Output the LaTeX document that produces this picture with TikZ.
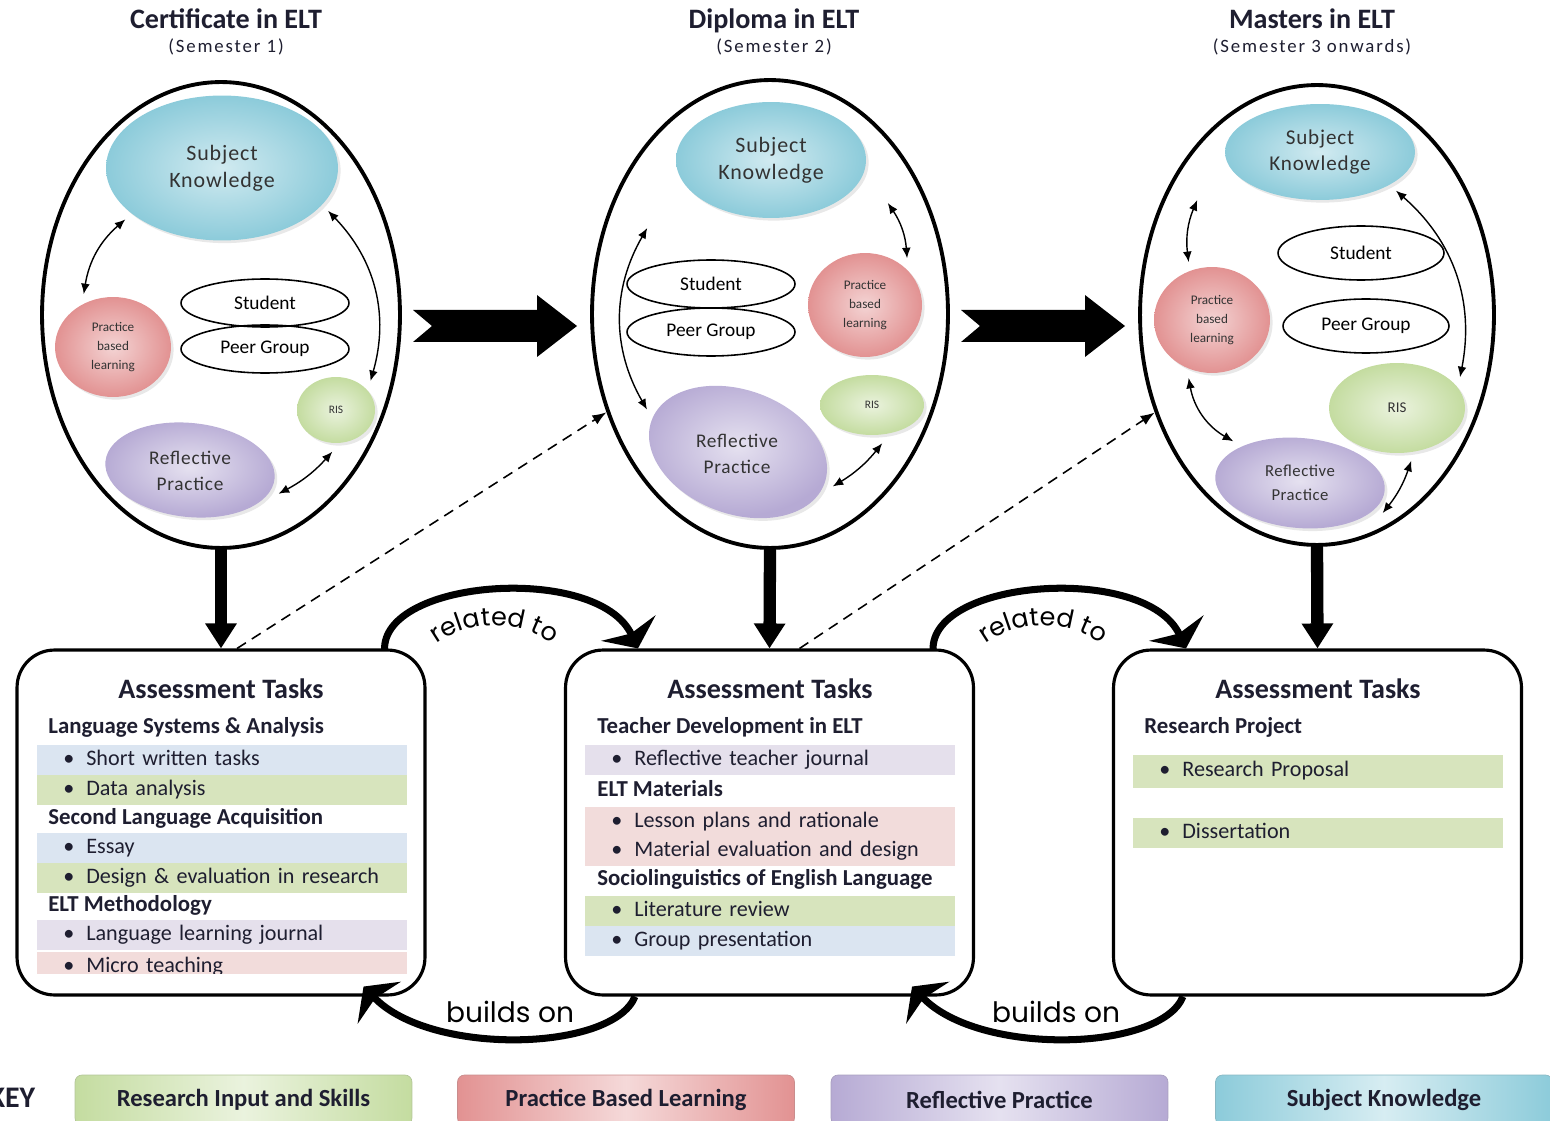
\documentclass[tikz,border=0pt]{standalone}
\usepackage{fontspec}
\setmainfont{Carlito}
\newfontfamily\roundfamily{Poppins}
\usetikzlibrary{arrows.meta,shapes.geometric,calc,decorations.text,shadows}

\definecolor{skblue}{RGB}{140,203,218}
\definecolor{pblred}{RGB}{226,146,146}
\definecolor{risgreen}{RGB}{196,220,160}
\definecolor{rppurple}{RGB}{182,170,212}
\definecolor{bandblue}{RGB}{219,229,241}
\definecolor{bandgreen}{RGB}{215,228,189}
\definecolor{bandpurple}{RGB}{229,224,236}
\definecolor{bandpink}{RGB}{242,220,219}
\definecolor{ink}{RGB}{30,30,48}

\tikzset{
  stage/.style={draw, ellipse, line width=2.2pt, inner sep=0pt},
  stagetitle/.style={anchor=base, font=\bfseries\fontsize{16}{18}\selectfont, text=ink, inner sep=0pt},
  semester/.style={anchor=base, font=\fontsize{10.7}{12}\selectfont\addfontfeature{LetterSpace=10}, text=ink, inner sep=0pt},
  blob/.style={ellipse, inner sep=0pt, outer sep=5pt, align=center, text=black!80,
    drop shadow={opacity=0.18, shadow xshift=1.5pt, shadow yshift=-1.5pt}},
  skblob/.style={blob, inner color=skblue!40, outer color=skblue, font=\fontsize{12.5}{15.5}\selectfont\addfontfeature{LetterSpace=4}},
  pblblob/.style={blob, inner color=pblred!40, outer color=pblred, font=\fontsize{7.5}{11}\selectfont},
  risblob/.style={blob, inner color=risgreen!35, outer color=risgreen, font=\fontsize{6.5}{8}\selectfont},
  rpblob/.style={blob, inner color=rppurple!35, outer color=rppurple},
  rptext/.style={align=center, inner sep=0pt, text=black!80, font=\fontsize{11}{14.5}\selectfont\addfontfeature{LetterSpace=4}},
  ring/.style={draw, ellipse, line width=0.9pt, inner sep=0pt, outer sep=4pt, font=\fontsize{11}{13}\selectfont},
  link/.style={<->, line width=0.8pt},
  stagearrow/.style={line width=7pt, -{Triangle[length=0.5cm,width=0.6cm]}},
  hint/.style={dash pattern=on 6pt off 4pt, line width=0.9pt, -{Latex[length=8pt,width=6pt]}},
  taskbox/.style={draw, rounded corners=0.75cm, line width=1.8pt, fill=white, minimum width=8.16cm, minimum height=6.9cm},
  taskhead/.style={font=\bfseries\fontsize{16}{18}\selectfont, text=ink, inner sep=0pt},
  subhead/.style={anchor=west, font=\bfseries\fontsize{13}{15}\selectfont, text=ink, inner sep=0pt},
  band/.style={anchor=west, minimum width=7.4cm, minimum height=0.59cm, inner sep=0pt,
    text width=7.4cm, align=left, text height=9pt, text depth=2.6pt, font=\fontsize{12.6}{14}\selectfont, text=ink},
  relarc/.style={line width=4pt, -{Stealth[length=0.45cm,width=1.2cm,inset=0.12cm]}},
  arcword/.style={font=\roundfamily\fontsize{16}{18}\selectfont},
  keybox/.style={rounded corners=4pt, draw=#1!75!gray, left color=#1, right color=#1, middle color=#1!35,
    minimum width=6.74cm, minimum height=1cm, font=\bfseries\fontsize{14}{16}\selectfont, text=ink},
}

\newcommand{\bul}{\hspace*{0.52cm}\makebox[0.46cm][l]{\textbullet}}

\begin{document}
\begin{tikzpicture}[x=0.02cm, y=0.02cm, >={Latex[length=6pt,width=5pt]}]
    \useasboundingbox (0,0) rectangle (1550,-1121);

    % stage titles
    \node[stagetitle] (certtitle) at (226,-29) {Certificate in ELT};
    \node[semester] (certsem) at (226,-53) {(Semester 1)};
    \node[stagetitle] (diptitle) at (774,-29) {Diploma in ELT};
    \node[semester] (dipsem) at (774,-53) {(Semester 2)};
    \node[stagetitle] (mastitle) at (1312,-29) {Masters in ELT};
    \node[semester] (massem) at (1312,-53) {(Semester 3 onwards)};

    % stage ellipses
    \node[stage, minimum width=7.16cm, minimum height=9.32cm] (cert) at (221,-315) {};
    \node[stage, minimum width=7.12cm, minimum height=9.36cm] (dip) at (770,-314) {};
    \node[stage, minimum width=7.08cm, minimum height=9.2cm] (mas) at (1317,-315) {};

    % certificate
    \node[skblob, minimum width=4.64cm, minimum height=2.9cm] (csk) at (222,-168) {Subject\\Knowledge};
    \node[pblblob, minimum width=2.32cm, minimum height=2.0cm] (cpbl) at (113,-347) {Practice\\based\\learning};
    \node[ring, minimum width=3.36cm, minimum height=0.96cm] (cst) at (265,-303) {Student};
    \node[ring, minimum width=3.36cm, minimum height=0.96cm] (cpg) at (265,-349) {Peer Group};
    \node[risblob, minimum width=1.56cm, minimum height=1.32cm] (cris) at (336,-410) {RIS};
    \node[rpblob, minimum width=3.4cm, minimum height=1.88cm, rotate=-6] (crp) at (190,-470) {};
    \node[rptext] (crptext) at (190,-471) {Reflective\\Practice};
    \draw[link] (csk.208) to[bend right=20] (cpbl.119);
    \draw[link] (csk.338) to[bend left=30] (cris.40);
    \draw[link] (crp.351) to[bend right=10] (cris.265);

    % diploma
    \node[skblob, minimum width=3.8cm, minimum height=2.32cm] (dsk) at (771,-160) {Subject\\Knowledge};
    \node[ring, minimum width=3.36cm, minimum height=0.96cm] (dst) at (711,-284) {Student};
    \node[ring, minimum width=3.36cm, minimum height=0.96cm] (dpg) at (711,-332) {Peer Group};
    \node[pblblob, minimum width=2.28cm, minimum height=2.08cm] (dpbl) at (865,-305) {Practice\\based\\learning};
    \node[risblob, minimum width=2.08cm, minimum height=1.2cm] (dris) at (872,-405) {RIS};
    \node[rpblob, minimum width=3.68cm, minimum height=2.48cm, rotate=-20] (drp) at (738,-452) {};
    \node[rptext] (drptext) at (737,-454) {Reflective\\Practice};
    \draw[link] ($(dsk.west)+(-20,-68)$) to[bend right=30] (drp.175);
    \draw[link] ($(dsk.east)+(13,-43)$) to[bend left=15] (dpbl.48);
    \draw[link] (drp.east) to[bend right=10] (dris.285);

    % masters
    \node[skblob, minimum width=3.8cm, minimum height=1.92cm, font=\fontsize{12}{14.5}\selectfont\addfontfeature{LetterSpace=4}] (msk) at (1320,-152) {Subject\\Knowledge};
    \node[ring, minimum width=3.32cm, minimum height=1.08cm] (mst) at (1361,-253) {Student};
    \node[ring, minimum width=3.32cm, minimum height=1.08cm] (mpg) at (1366,-326) {Peer Group};
    \node[pblblob, minimum width=2.32cm, minimum height=2.12cm] (mpbl) at (1212,-320) {Practice\\based\\learning};
    \node[risblob, minimum width=2.72cm, minimum height=1.8cm, font=\fontsize{8.5}{10}\selectfont] (mris) at (1397,-408) {RIS};
    \node[rpblob, minimum width=3.4cm, minimum height=1.8cm, rotate=-5] (mrp) at (1300,-483) {};
    \node[rptext, font=\fontsize{9.5}{13.5}\selectfont\addfontfeature{LetterSpace=3}] (mrptext) at (1300,-483) {Reflective\\Practice};
    \draw[link] ($(msk.west)+(-19,-48)$) to[bend right=15] (mpbl.112);
    \draw[link] (msk.333) to[bend left=30] (mris.26);
    \draw[link] (mpbl.248) to[bend right=25] (mrp.153);
    \draw[link] (mrp.345) to[bend right=10] (mris.285);

    % arrows between stages
    \foreach \dx in {0,548}
        \fill[shift={(\dx,0)}] (413,-310) -- (537,-310) -- (537,-295) -- (577,-326) -- (537,-357)
            -- (537,-342) -- (413,-342) -- (432,-326) -- cycle;

    % assessment boxes
    \node[taskbox] (lbox) at (221,-822.5) {};
    \node[taskbox] (dbox) at (769.5,-822.5) {};
    \node[taskbox] (rbox) at (1317.5,-822.5) {};

    \draw[stagearrow] (cert.south) -- (lbox.north);
    \draw[stagearrow] (dip.south) -- (dbox.north);
    \draw[stagearrow] (mas.south) -- (rbox.north);

    \draw[hint] ($(lbox.north)+(16,0)$) -- (dip.211);
    \draw[hint] ($(dbox.north)+(30,0)$) -- (mas.211);

    % related to / builds on
    \foreach \a/\b in {lbox/dbox, dbox/rbox} {
        \coordinate (rs) at ($(\a.north east)+(-42,-2)$);
        \coordinate (re) at ($(\b.north west)+(74,0)$);
        \coordinate (rc) at ($(\a.north east)+(68,-77)$);
        \draw[relarc] (rs) .. controls +(-3,72) and +(-40,85) .. (re);
        \path[decorate, decoration={text along path, text={|\roundfamily\fontsize{14.5}{16}\selectfont|related to},
            text align=center}] ($(rc)+(140:100)$) arc[start angle=140, end angle=40, radius=100];
        \coordinate (bs) at ($(\b.south west)+(71,0)$);
        \coordinate (be) at ($(\a.south east)+(-63,10)$);
        \draw[relarc] (bs) .. controls +(-22,-55) and +(68,-70) .. (be);
    }
    \node[arcword] (build1) at (510,-1012) {builds on};
    \node[arcword] (build2) at (1056,-1012) {builds on};

    % certificate tasks
    \node[taskhead] (lhead) at (221,-689) {Assessment Tasks};
    \node[subhead] (lsub1) at (48,-727) {Language Systems \& Analysis};
    \node[band, fill=bandblue] (lt1) at (37,-760) {\bul Short written tasks};
    \node[band, fill=bandgreen] (lt2) at (37,-790) {\bul Data analysis};
    \node[subhead] (lsub2) at (48,-818) {Second Language Acquisition};
    \node[band, fill=bandblue] (lt3) at (37,-848) {\bul Essay};
    \node[band, fill=bandgreen] (lt4) at (37,-878) {\bul Design \& evaluation in research};
    \node[subhead] (lsub3) at (48,-905) {ELT Methodology};
    \node[band, fill=bandpurple] (lt5) at (37,-935) {\bul Language learning journal};
    \begin{scope}
        \clip (37,-949) rectangle (407,-973);
        \node[band, fill=bandpink] (lt6) at (37,-967) {\bul Micro teaching};
    \end{scope}

    % diploma tasks
    \node[taskhead] (dhead) at (770,-689) {Assessment Tasks};
    \node[subhead] (dsub1) at (597,-727) {Teacher Development in ELT};
    \node[band, fill=bandpurple] (dt1) at (585,-760) {\bul Reflective teacher journal};
    \node[subhead] (dsub2) at (597,-789) {ELT Materials};
    \node[band, fill=bandpink] (dt2) at (585,-822) {\bul Lesson plans and rationale};
    \node[band, fill=bandpink] (dt3) at (585,-851) {\bul Material evaluation and design};
    \node[subhead] (dsub3) at (597,-879) {Sociolinguistics of English Language};
    \node[band, fill=bandgreen] (dt4) at (585,-911) {\bul Literature review};
    \node[band, fill=bandblue] (dt5) at (585,-941) {\bul Group presentation};

    % masters tasks
    \node[taskhead] (rhead) at (1318,-689) {Assessment Tasks};
    \node[subhead] (rsub1) at (1144,-727) {Research Project};
    \node[band, fill=bandgreen, minimum height=0.66cm] (rt1) at (1133,-771) {\bul Research Proposal};
    \node[band, fill=bandgreen] (rt2) at (1133,-833) {\bul Dissertation};

    % key
    \node[font=\bfseries\fontsize{17}{19}\selectfont, text=ink] (keylabel) at (12,-1098) {KEY};
    \node[keybox=risgreen] (keyris) at (243.5,-1100) {Research Input and Skills};
    \node[keybox=pblred] (keypbl) at (626,-1100) {Practice Based Learning};
    \node[keybox=rppurple] (keyrp) at (999.5,-1100) {Reflective Practice};
    \node[keybox=skblue] (keysk) at (1384,-1100) {Subject Knowledge};
\end{tikzpicture}
\end{document}
